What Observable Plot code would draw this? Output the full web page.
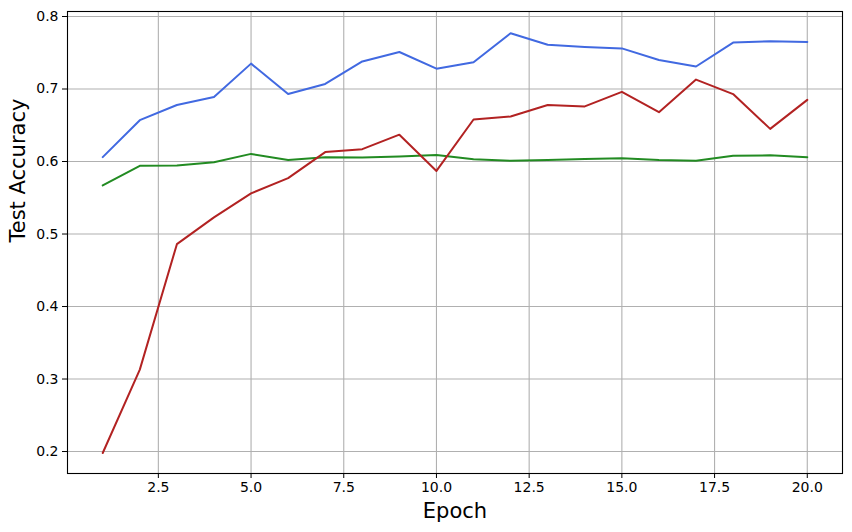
<!DOCTYPE html>
<html>
<head>
<meta charset="utf-8">
<script src="https://cdn.jsdelivr.net/npm/d3@7"></script>
<script src="https://cdn.jsdelivr.net/npm/@observablehq/plot@0.6"></script>
<style>
  html, body { margin: 0; padding: 0; background: #fff; }
  svg { font-family: "DejaVu Sans", sans-serif; }
</style>
</head>
<body>
<div id="chart"></div>
<script>
const epochs = [1,2,3,4,5,6,7,8,9,10,11,12,13,14,15,16,17,18,19,20];
const seriesA = [0.606,0.657,0.678,0.689,0.735,0.693,0.707,0.738,0.751,0.728,0.737,0.777,0.761,0.758,0.756,0.740,0.731,0.764,0.766,0.765];
const seriesB = [0.198,0.313,0.486,0.523,0.556,0.577,0.613,0.617,0.637,0.587,0.658,0.662,0.678,0.676,0.696,0.668,0.713,0.693,0.645,0.685];
const seriesC = [0.567,0.594,0.5945,0.599,0.6105,0.602,0.606,0.6055,0.607,0.609,0.603,0.601,0.602,0.6035,0.6045,0.602,0.601,0.608,0.6085,0.606];
const xTicks = [2.5,5,7.5,10,12.5,15,17.5,20];
const yTicks = [0.2,0.3,0.4,0.5,0.6,0.7,0.8];
const seriesNames = ["Series A", "Series C", "Series B"];
const seriesColors = ["#4169e1", "#228b22", "#b22222"];

const rows = [];
for (const [name, vals] of [["Series A", seriesA], ["Series C", seriesC], ["Series B", seriesB]]) {
  epochs.forEach((e, i) => rows.push({series: name, epoch: e, acc: vals[i]}));
}

const chart = Plot.plot({
  width: 852,
  height: 532,
  marginLeft: 67,
  marginRight: 10,
  marginTop: 11,
  marginBottom: 59,
  style: {fontFamily: "DejaVu Sans, sans-serif", fontSize: "14px", color: "#000", background: "#fff"},
  x: {domain: [0.05, 20.95], ticks: xTicks, tickFormat: d3.format(".1f"), label: null},
  y: {domain: [0.1697, 0.8069], ticks: yTicks, tickFormat: d3.format(".1f"), label: null},
  color: {domain: seriesNames, range: seriesColors},
  marks: [
    Plot.gridX(xTicks, {stroke: "#b0b0b0", strokeOpacity: 1, strokeWidth: 1.1}),
    Plot.gridY(yTicks, {stroke: "#b0b0b0", strokeOpacity: 1, strokeWidth: 1.1}),
    Plot.line(rows, {x: "epoch", y: "acc", z: "series", stroke: "series", strokeWidth: 2}),
    Plot.axisX(xTicks, {tickSize: 5, tickPadding: 4, fontSize: 14, tickFormat: d3.format(".1f"), label: null}),
    Plot.axisY(yTicks, {tickSize: 5, tickPadding: 4, fontSize: 14, tickFormat: d3.format(".1f"), label: null}),
    Plot.frame({stroke: "#000", strokeWidth: 1.1}),
    Plot.text(["Epoch"], {frameAnchor: "bottom", dy: 44, fontSize: 21, fill: "#000", text: d => d}),
    Plot.text(["Test Accuracy"], {frameAnchor: "left", dx: -49, rotate: -90, fontSize: 21, fill: "#000", text: d => d})
  ]
});
document.getElementById("chart").appendChild(chart);
</script>
</body>
</html>
